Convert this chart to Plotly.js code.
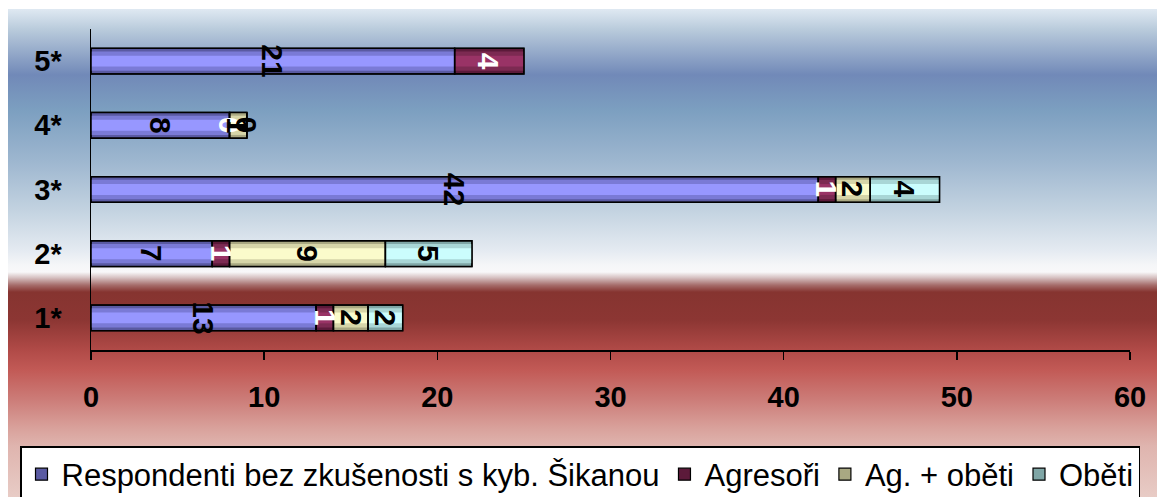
<!DOCTYPE html>
<html>
<head>
<meta charset="utf-8">
<script src="https://cdn.plot.ly/plotly-3.0.1.min.js"></script>
<style>
html,body{margin:0;padding:0;background:#fff;}
#chart{width:1159px;height:497px;}
</style>
</head>
<body>
<div id="chart"></div>
<script>
// ---- data ----
const categories = ['1*', '2*', '3*', '4*', '5*'];
const seriesNames = ['Respondenti bez zkušenosti s kyb. Šikanou', 'Agresoři', 'Ag. + oběti', 'Oběti'];
const respondenti = [13, 7, 42, 8, 21];
const agresori    = [1, 1, 1, 0, 4];
const agObeti     = [2, 9, 2, 1, null];
const obeti       = [2, 5, 4, 0, null];
const xTicks = [0, 10, 20, 30, 40, 50, 60];

// ---- styles ----
const seriesValues = [respondenti, agresori, agObeti, obeti];
const shades = [
  ['#5a5aa2', '#7a7ad6', '#9797ff'],
  ['#5c1a3a', '#7c2a52', '#993366'],
  ['#a9a882', '#d6d5a8', '#fbfbcb'],
  ['#7fa6a6', '#a8d6d6', '#cbfdfd']
];
const labelColors = ['#000', '#fff', '#000', '#000'];
const widths = [0.4, 0.3, 0.17];
const FONT = 'Liberation Sans, Arial, sans-serif';

// cumulative bases
const bases = [];
let running = categories.map(() => 0);
seriesValues.forEach(vals => {
  bases.push(running.slice());
  running = running.map((r, i) => r + (vals[i] == null ? 0 : vals[i]));
});

const traces = [];
seriesValues.forEach((vals, s) => {
  widths.forEach((w, l) => {
    traces.push({
      type: 'bar', orientation: 'h',
      y: categories, x: vals, base: bases[s],
      width: w,
      name: seriesNames[s],
      legendgroup: 'g' + s,
      showlegend: l === 0,
      marker: { color: shades[s][l], line: { color: '#000', width: l === 0 ? 1.2 : 0 } },
      hoverinfo: 'skip'
    });
  });
});
// outline layer on top
seriesValues.forEach((vals, s) => {
  traces.push({
    type: 'bar', orientation: 'h',
    y: categories, x: vals, base: bases[s],
    width: 0.4, showlegend: false, legendgroup: 'g' + s,
    marker: { color: 'rgba(0,0,0,0)', line: { color: '#000', width: 1.5 } },
    hoverinfo: 'skip'
  });
});

// value labels (rotated)
const annotations = [];
seriesValues.forEach((vals, s) => {
  vals.forEach((v, i) => {
    if (v == null) return;
    annotations.push({
      x: bases[s][i] + v / 2, y: categories[i],
      xref: 'x', yref: 'y', text: String(v), showarrow: false,
      textangle: 90,
      font: { family: FONT, size: 30, color: labelColors[s], weight: 'bold' }
    });
  });
});

// background gradient
const stops = [
  [0, '#dfe9f2'], [4.3, '#b8cadb'], [13.5, '#7189b8'], [20.7, '#7c9fc0'],
  [31, '#9db6cf'], [41, '#c2d2e0'], [49.4, '#e4eaf1'], [52.5, '#f5f6f8'],
  [53.9, '#f8f8f9'], [55, '#d8c4c4'], [56.6, '#a56c6a'], [58, '#863430'],
  [63.7, '#8c3633'], [69.8, '#b04a47'], [74, '#c25a56'], [80, '#cc7c78'],
  [86, '#d9a29c'], [89.5, '#dfb4ae'], [100, '#e8ccc6']
];
const svg = '<svg xmlns="http://www.w3.org/2000/svg" width="100" height="100" preserveAspectRatio="none">' +
  '<defs><linearGradient id="g" x1="0" y1="0" x2="0" y2="1">' +
  stops.map(s => '<stop offset="' + s[0] + '%" stop-color="' + s[1] + '"/>').join('') +
  '</linearGradient></defs><rect width="100" height="100" fill="url(#g)"/></svg>';
const bgSrc = 'data:image/svg+xml;charset=utf-8,' + encodeURIComponent(svg);

const L = 91, R = 29, T = 29, B = 147;
const PW = 1159 - L - R, PH = 497 - T - B;
const px2x = p => (p - L) / PW;
const px2y = p => (497 - B - p) / PH;

const layout = {
  width: 1159, height: 497,
  margin: { l: L, r: R, t: T, b: B, pad: 0, autoexpand: false },
  paper_bgcolor: '#ffffff', plot_bgcolor: 'rgba(0,0,0,0)',
  barmode: 'overlay',
  showlegend: true,
  font: { family: FONT, color: '#000' },
  xaxis: {
    range: [0, 60], tickvals: xTicks, ticktext: xTicks.map(String),
    showgrid: false, zeroline: false,
    showline: true, linecolor: '#000', linewidth: 1.5,
    ticks: 'outside', ticklen: 8, tickwidth: 1.5, tickcolor: '#000',
    ticklabelstandoff: 13,
    tickfont: { family: FONT, size: 29, color: '#000', weight: 'bold' },
    fixedrange: true, automargin: false
  },
  yaxis: {
    type: 'category', range: [-0.5, 4.5],
    showgrid: false, zeroline: false,
    showline: true, linecolor: '#000', linewidth: 1.5,
    ticks: '', ticklabelstandoff: 22,
    tickfont: { family: FONT, size: 29, color: '#000', weight: 'bold' },
    fixedrange: true, automargin: false
  },
  legend: {
    orientation: 'h', x: px2x(20), xanchor: 'left', y: px2y(446), yanchor: 'top',
    bgcolor: '#ffffff', bordercolor: '#000', borderwidth: 1.5,
    font: { family: FONT, size: 31, color: '#000' },
    traceorder: 'normal', itemwidth: 30
  },
  annotations: annotations,
  images: [{
    source: bgSrc, xref: 'paper', yref: 'paper',
    x: px2x(8), y: px2y(9), sizex: (1157 - 8) / PW, sizey: (497 - 9) / PH,
    xanchor: 'left', yanchor: 'top', sizing: 'stretch', layer: 'below'
  }]
};

Plotly.newPlot('chart', traces, layout, { displayModeBar: false, staticPlot: true });
</script>
</body>
</html>
